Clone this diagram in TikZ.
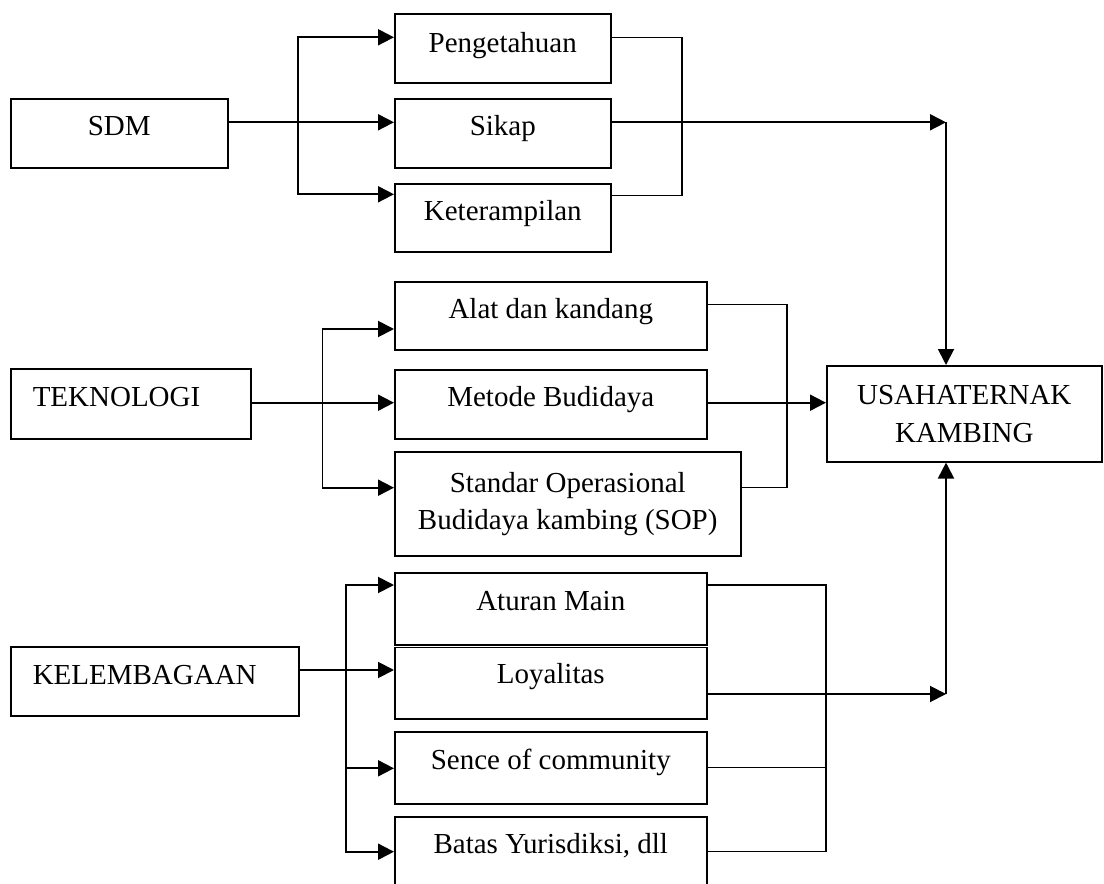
\documentclass[tikz,border=0pt]{standalone}
\usepackage{fontspec}
\setmainfont{Liberation Serif}
\usetikzlibrary{arrows.meta}
\tikzset{
  kotak/.style={draw=black, line width=0.9pt, inner sep=0pt, anchor=north west, font=\fontsize{16.5}{21.5}\selectfont},
  kotakkiri/.style={kotak, inner xsep=0.44cm, align=left},
  kotakdua/.style={kotak, align=center},
  panah/.style={line width=1.1pt, -{Triangle[length=0.32cm, width=0.32cm]}},
  gabung/.style={line width=0.7pt},
}

\begin{document}
\begin{tikzpicture}[x=0.02cm, y=-0.02cm]
\useasboundingbox (0,0) rectangle (1104,884);
\clip (0,0) rectangle (1104,884);
\node[kotak, minimum width=4.34cm, text height=0.74cm, text depth=0.64cm] (sdm) at (10,98) {SDM};
\node[kotak, minimum width=4.32cm, text height=0.77cm, text depth=0.61cm] (peng) at (394,13.3) {Pengetahuan};
\node[kotak, minimum width=4.32cm, text height=0.74cm, text depth=0.64cm] (sikap) at (394,98) {Sikap};
\node[kotak, minimum width=4.32cm, text height=0.74cm, text depth=0.63cm] (ket) at (394,183) {Keterampilan};
\node[kotakkiri, text width=3.92cm, text height=0.74cm, text depth=0.65cm] (tek) at (10,368.5) {TEKNOLOGI};
\node[kotak, minimum width=6.24cm, text height=0.74cm, text depth=0.63cm] (alat) at (394,281) {Alat dan kandang};
\node[kotak, minimum width=6.24cm, text height=0.73cm, text depth=0.65cm] (metode) at (394,369) {Metode Budidaya};
\node[kotakdua, minimum width=6.92cm, minimum height=2.09cm] (sop) at (394,451) {Standar Operasional\\Budidaya kambing (SOP)};
\node[kotakdua, minimum width=5.5cm, minimum height=1.92cm] (usaha) at (826,365) {USAHATERNAK\\KAMBING};
\node[kotakkiri, text width=4.88cm, text height=0.76cm, text depth=0.63cm] (kel) at (10,646) {KELEMBAGAAN};
\node[kotak, minimum width=6.24cm, text height=0.74cm, text depth=0.70cm] (aturan) at (394,572.3) {Aturan Main};
\node[kotak, minimum width=6.24cm, text height=0.73cm, text depth=0.70cm] (loyal) at (394,646.7) {Loyalitas};
\node[kotak, minimum width=6.24cm, text height=0.75cm, text depth=0.69cm] (sence) at (394,731) {Sence of community};
\node[kotak, minimum width=6.24cm, text height=0.74cm, text depth=0.94cm] (batas) at (394,816) {Batas Yurisdiksi, dll};

\coordinate (s1) at (298,37.3);
\coordinate (s2) at (298,122.3);
\coordinate (s3) at (298,194.3);
\coordinate (gs) at (682,195.5);
\coordinate (atas) at (946,122.3);
\draw[panah] (sdm.east |- s2) -- (sikap.west |- s2);
\draw[panah] (s3) |- (peng.west |- s1);
\draw[panah] (s1) |- (ket.west |- s3);
\draw[gabung] (peng.east |- s1) -| (gs) -- (ket.east |- gs);
\draw[panah] (sikap.east |- s2) -- (atas);
\draw[panah] (atas) -- (atas |- usaha.north);

\coordinate (t1) at (322.5,329);
\coordinate (t2) at (322.5,402.7);
\coordinate (t3) at (322.5,487.7);
\coordinate (gt1) at (787,304.3);
\coordinate (gt2) at (787,487.3);
\draw[panah] (tek.east |- t2) -- (metode.west |- t2);
\draw[panah] (t3) |- (alat.west |- t1);
\draw[panah] (t1) |- (sop.west |- t3);
\draw[gabung] (alat.east |- gt1) -- (gt1) -- (gt2) -- (sop.east |- gt2);
\draw[panah] (metode.east |- t2) -- (usaha.west |- t2);

\coordinate (k1) at (345.7,585);
\coordinate (k2) at (345.7,670);
\coordinate (k3) at (345.7,768.3);
\coordinate (k4) at (345.7,851.7);
\coordinate (gk1) at (826,585);
\coordinate (gk2) at (826,767.7);
\coordinate (gk3) at (826,851.7);
\coordinate (bawah) at (946,694);
\draw[panah] (kel.east |- k2) -- (loyal.west |- k2);
\draw[panah] (k4) |- (aturan.west |- k1);
\draw[panah] (k1) |- (batas.west |- k4);
\draw[panah] (k3) -- (sence.west |- k3);
\draw[gabung] (aturan.east |- gk1) -- (gk1) -- (gk3) -- (batas.east |- gk3);
\draw[gabung] (sence.east |- gk2) -- (gk2);
\draw[panah] (loyal.east |- bawah) -- (bawah);
\draw[panah] (bawah) -- (bawah |- usaha.south);
\end{tikzpicture}
\end{document}
